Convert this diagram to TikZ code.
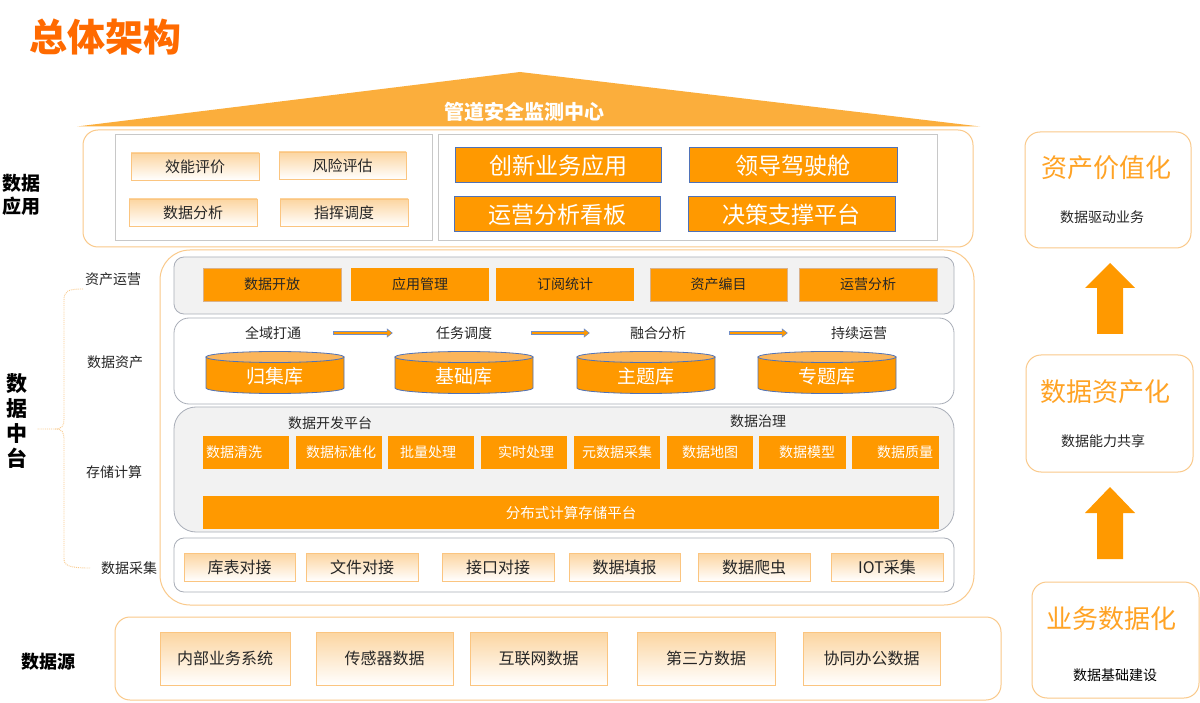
\documentclass[tikz,border=0pt]{standalone}
\usepackage{fontspec}
\setmainfont{Noto Sans CJK SC}
\usetikzlibrary{calc,arrows.meta}
\definecolor{org}{HTML}{FF9900}
\definecolor{titleorg}{HTML}{FF6A00}
\definecolor{rooforg}{HTML}{FBAE3C}
\definecolor{edgeorg}{HTML}{FAC98A}
\definecolor{lbtop}{HTML}{FCD5A0}
\definecolor{lbedge}{HTML}{FBC580}
\definecolor{bandfill}{HTML}{F2F2F2}
\definecolor{bandedge}{HTML}{A9AEB8}
\definecolor{greyedge}{HTML}{C8C8C8}
\definecolor{bluedge}{HTML}{4F72B8}
\definecolor{cyltop}{HTML}{FBB55A}
\definecolor{txt}{HTML}{262626}
\definecolor{rtitle}{HTML}{FFA325}
\newcommand\myfs[1]{\fontsize{#1pt}{#1pt}\selectfont}
\tikzset{
  txtnode/.style={inner sep=0pt, text=txt},
  lightbox/.style={rectangle, top color=lbtop, bottom color=white, draw=lbedge, line width=0.8pt, inner sep=0pt, text=txt},
  obox/.style={rectangle, fill=org, inner sep=0pt, text=txt},
  devbox/.style={rectangle, fill=org, inner sep=0pt, text=white, font=\myfs{14}},
  bigbox/.style={rectangle, fill=org, draw=bluedge, line width=1pt, inner sep=0pt, text=white, font=\myfs{23}},
  outerbox/.style={draw=edgeorg, line width=1pt, fill=white},
  greybox/.style={draw=greyedge, line width=0.8pt, fill=white},
  band/.style={draw=bandedge, line width=0.8pt},
  cylbody/.style={fill=org, draw=bluedge, line width=0.8pt},
  cyltopst/.style={fill=cyltop, draw=bluedge, line width=0.8pt},
  flowbg/.style={draw=bluedge!80, line width=4pt, -{Triangle[length=6pt,width=9pt]}},
  flowfg/.style={draw=org, line width=2.2pt, -{Triangle[length=4.2pt,width=6.2pt]}},
  bracest/.style={draw=edgeorg, line width=0.9pt, densely dotted},
  rbox/.style={rectangle, draw=edgeorg, line width=1pt, rounded corners=15pt, fill=white},
}
\begin{document}
\begin{tikzpicture}[x=1pt,y=-1pt]
\useasboundingbox (0,0) rectangle (1200,703);
\fill[white] (0,0) rectangle (1200,703);

% title
\node[inner sep=0pt, text=titleorg, font=\myfs{38}\bfseries] (title) at (105.5,37) {总体架构};

% roof
\fill[rooforg] (77,126.5) -- (520,72) -- (980,126.5) -- cycle;
\node[inner sep=0pt, text=white, font=\myfs{20}\bfseries] (roof) at (524,112) {管道安全监测中心};

% application layer
\draw[outerbox, rounded corners=15pt] (83,130) rectangle (973,247);
\draw[greybox] (115,134) rectangle (432,240);
\draw[greybox] (438,134) rectangle (937,240);
\node[lightbox, minimum width=128pt, minimum height=27pt, font=\myfs{15}] (a1) at (195,166.5) {效能评价};
\node[lightbox, minimum width=127pt, minimum height=27pt, font=\myfs{15}] (a2) at (342.5,165.5) {风险评估};
\node[lightbox, minimum width=128pt, minimum height=27pt, font=\myfs{15}] (a3) at (193,212.5) {数据分析};
\node[lightbox, minimum width=128pt, minimum height=27pt, font=\myfs{15}] (a4) at (344,212.5) {指挥调度};
\node[bigbox, minimum width=206pt, minimum height=35pt] (b1) at (558,165.5) {创新业务应用};
\node[bigbox, minimum width=208pt, minimum height=35pt] (b2) at (793,165.5) {领导驾驶舱};
\node[bigbox, minimum width=206pt, minimum height=35pt] (b3) at (557,214.5) {运营分析看板};
\node[bigbox, minimum width=207pt, minimum height=35pt] (b4) at (791.5,214.5) {决策支撑平台};

\node[txtnode, text=black, font=\myfs{19}\bfseries, align=center] (lapp) at (21,195) {数据\\[4pt]应用};

% middle platform
\draw[outerbox, rounded corners=30pt] (160,250) rectangle (974,605);
% asset operation band
\draw[band, fill=bandfill, rounded corners=10pt] (174,257) rectangle (954,314);
\node[obox, draw=brown!60, line width=0.5pt, minimum width=138pt, minimum height=33pt, font=\myfs{14}] (o1) at (272,284.5) {数据开放};
\node[obox, minimum width=138pt, minimum height=33pt, font=\myfs{14}] (o2) at (420,284.5) {应用管理};
\node[obox, minimum width=138pt, minimum height=33pt, font=\myfs{14}] (o3) at (565,284.5) {订阅统计};
\node[obox, draw=brown!60, line width=0.5pt, minimum width=137pt, minimum height=33pt, font=\myfs{14}] (o4) at (718.5,284.5) {资产编目};
\node[obox, draw=brown!60, line width=0.5pt, minimum width=138pt, minimum height=33pt, font=\myfs{14}] (o5) at (868,284.5) {运营分析};

% data asset band
\draw[band, fill=white, rounded corners=15pt] (174,318) rectangle (954,404);
\node[txtnode, font=\myfs{14}] (f1) at (273,333) {全域打通};
\node[txtnode, font=\myfs{14}] (f2) at (464,333) {任务调度};
\node[txtnode, font=\myfs{14}] (f3) at (658,333) {融合分析};
\node[txtnode, font=\myfs{14}] (f4) at (859,333) {持续运营};
\draw[flowbg, shorten <=32pt, shorten >=43pt] (f1.east) -- (f2.west);
\draw[flowfg, shorten <=33pt, shorten >=44.2pt] (f1.east) -- (f2.west);
\draw[flowbg, shorten <=39pt, shorten >=40pt] (f2.east) -- (f3.west);
\draw[flowfg, shorten <=40pt, shorten >=41.2pt] (f2.east) -- (f3.west);
\draw[flowbg, shorten <=43pt, shorten >=43pt] (f3.east) -- (f4.west);
\draw[flowfg, shorten <=44pt, shorten >=44.2pt] (f3.east) -- (f4.west);

\foreach \cx/\nm/\lab in {275/c1/归集库, 464/c2/基础库, 646/c3/主题库, 827/c4/专题库}{
  \draw[cylbody] (\cx-69,357) -- (\cx-69,388) arc[start angle=180,end angle=360,x radius=69pt,y radius=5.5pt] -- (\cx+69,357) -- cycle;
  \draw[cyltopst] (\cx,357) ellipse [x radius=69pt, y radius=5.5pt];
  \node[inner sep=0pt, text=white, font=\myfs{19}] (\nm) at (\cx,376) {\lab};
}

% storage & compute band
\draw[band, fill=bandfill, rounded corners=22pt] (174,407) rectangle (954,532);
\node[txtnode, font=\myfs{14}] (devp) at (330,423) {数据开发平台};
\node[txtnode, font=\myfs{14}] (gov) at (758,421) {数据治理};
\node[devbox, minimum width=86pt, minimum height=33pt] (d1) at (246,452.5) {数据清洗\kern24pt};
\node[devbox, minimum width=86pt, minimum height=33pt] (d2) at (339,452.5) {\kern4pt数据标准化};
\node[devbox, minimum width=86pt, minimum height=33pt] (d3) at (431,452.5) {批量处理\kern6pt};
\node[devbox, minimum width=86pt, minimum height=33pt] (d4) at (524,452.5) {\kern4pt实时处理};
\node[devbox, minimum width=86pt, minimum height=33pt] (d5) at (617,452.5) {元数据采集};
\node[devbox, minimum width=86pt, minimum height=33pt] (d6) at (710,452.5) {数据地图};
\node[devbox, minimum width=87pt, minimum height=33pt] (d7) at (802.5,452.5) {\kern9pt数据模型};
\node[devbox, minimum width=87pt, minimum height=33pt] (d8) at (895.5,452.5) {\kern19pt数据质量};
\node[devbox, minimum width=736pt, minimum height=33pt, font=\myfs{14.5}] (bar) at (571,512.5) {分布式计算存储平台};

% data collection band
\draw[band, fill=white, rounded corners=10pt] (174,538) rectangle (954,592);
\node[lightbox, minimum width=111pt, minimum height=28pt, font=\myfs{16}] (g1) at (239.5,567) {库表对接};
\node[lightbox, minimum width=112pt, minimum height=28pt, font=\myfs{16}] (g2) at (362,567) {文件对接};
\node[lightbox, minimum width=112pt, minimum height=28pt, font=\myfs{16}] (g3) at (498,567) {接口对接};
\node[lightbox, minimum width=111pt, minimum height=28pt, font=\myfs{16}] (g4) at (624.5,567) {数据填报};
\node[lightbox, minimum width=112pt, minimum height=28pt, font=\myfs{16}] (g5) at (754,567) {数据爬虫};
\node[lightbox, minimum width=112pt, minimum height=28pt, font=\myfs{16}] (g6) at (887,567) {IOT采集};

% left labels
\node[txtnode, font=\myfs{14}] (l1) at (113,279) {资产运营};
\node[txtnode, font=\myfs{14}] (l2) at (115,362) {数据资产};
\node[txtnode, font=\myfs{14}] (l3) at (114,472) {存储计算};
\node[txtnode, font=\myfs{14}] (l4) at (129,568) {数据采集};
\node[txtnode, text=black, font=\myfs{21}\bfseries, align=center] (lmid) at (17,420.5) {数\\[4pt]据\\[4pt]中\\[4pt]台};
\draw[bracest] (83,289) .. controls (68,289) and (64,291) .. (64,300) -- (64,419) .. controls (64,426) and (62,429) .. (55,429) -- (37,429);
\draw[bracest] (55,429) .. controls (62,429) and (64,432) .. (64,439) -- (64,558) .. controls (64,565) and (67,568) .. (90,568);

% data sources
\node[txtnode, text=black, font=\myfs{18}\bfseries] (lsrc) at (48,662) {数据源};
\draw[outerbox, rounded corners=15pt] (115,617) rectangle (1001,700);
\node[lightbox, minimum width=130pt, minimum height=53pt, font=\myfs{16}] (s1) at (225,658.5) {内部业务系统};
\node[lightbox, minimum width=137pt, minimum height=53pt, font=\myfs{16}] (s2) at (384.5,658.5) {传感器数据};
\node[lightbox, minimum width=137pt, minimum height=53pt, font=\myfs{16}] (s3) at (538.5,658.5) {互联网数据};
\node[lightbox, minimum width=138pt, minimum height=53pt, font=\myfs{16}] (s4) at (706,658.5) {第三方数据};
\node[lightbox, minimum width=137pt, minimum height=53pt, font=\myfs{16}] (s5) at (871.5,658.5) {协同办公数据};

% right column
\node[rbox, minimum width=166pt, minimum height=116pt] (r1) at (1108,190) {};
\node[inner sep=0pt, text=rtitle, font=\myfs{26}] (r1t) at (1106,168) {资产价值化};
\node[txtnode, font=\myfs{14}] (r1s) at (1102,217) {数据驱动业务};
\node[rbox, minimum width=167pt, minimum height=117pt] (r2) at (1109.5,413.5) {};
\node[inner sep=0pt, text=rtitle, font=\myfs{26}] (r2t) at (1105,392) {数据资产化};
\node[txtnode, font=\myfs{14}] (r2s) at (1103,441) {数据能力共享};
\node[rbox, minimum width=167pt, minimum height=116pt] (r3) at (1115.5,640) {};
\node[inner sep=0pt, text=rtitle, font=\myfs{26}] (r3t) at (1111,619) {业务数据化};
\node[txtnode, text=black, font=\myfs{14}] (r3s) at (1115,675) {数据基础建设};
\fill[org] (1097,334) -- (1097,288) -- (1085,288) -- (1110,263) -- (1135,288) -- (1123,288) -- (1123,334) -- cycle;
\fill[org] (1097,559) -- (1097,513) -- (1085,513) -- (1110,487) -- (1135,513) -- (1123,513) -- (1123,559) -- cycle;
\end{tikzpicture}
\end{document}
